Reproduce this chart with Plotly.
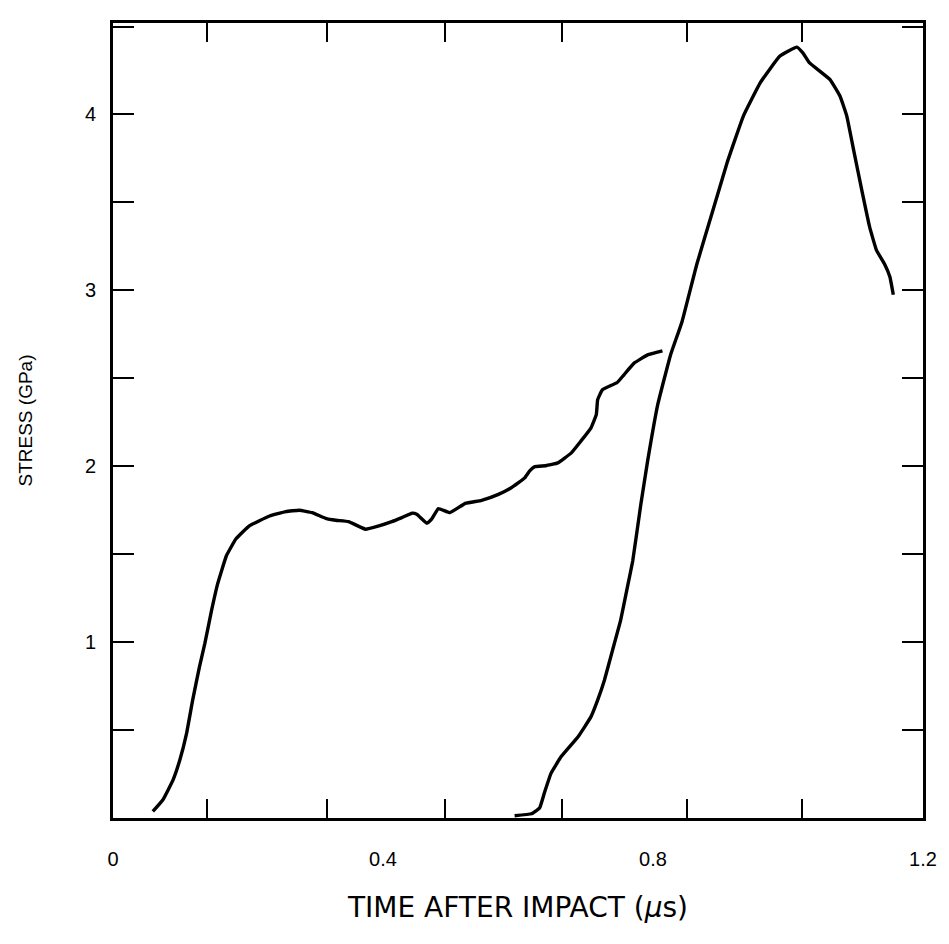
import plotly.graph_objects as go

# stress history (time in us, stress in GPa)
t_front = [0.059, 0.074, 0.089, 0.099, 0.109, 0.118, 0.128, 0.136, 0.146, 0.155,
           0.168, 0.182, 0.202, 0.232, 0.256, 0.276, 0.295, 0.315, 0.330, 0.349,
           0.374, 0.394, 0.413, 0.428, 0.443, 0.450, 0.465, 0.472, 0.482, 0.499,
           0.522, 0.546, 0.571, 0.590, 0.610, 0.617, 0.625, 0.641, 0.659, 0.679,
           0.693, 0.708, 0.716, 0.718, 0.725, 0.747, 0.757, 0.772, 0.792, 0.814]
s_front = [0.037, 0.104, 0.217, 0.330, 0.481, 0.670, 0.858, 0.991, 1.180, 1.331,
           1.491, 1.586, 1.661, 1.717, 1.742, 1.750, 1.736, 1.704, 1.693, 1.685,
           1.642, 1.661, 1.685, 1.708, 1.733, 1.727, 1.676, 1.699, 1.759, 1.736,
           1.789, 1.806, 1.840, 1.878, 1.934, 1.972, 1.998, 2.003, 2.019, 2.076,
           2.142, 2.217, 2.293, 2.378, 2.435, 2.476, 2.520, 2.586, 2.633, 2.656]

t_back = [0.595, 0.620, 0.632, 0.639, 0.649, 0.664, 0.689, 0.708, 0.718, 0.728,
          0.740, 0.752, 0.762, 0.770, 0.782, 0.792, 0.807, 0.826, 0.843, 0.865,
          0.888, 0.910, 0.934, 0.959, 0.988, 1.013, 1.022, 1.032, 1.062, 1.077,
          1.087, 1.098, 1.110, 1.121, 1.131, 1.143, 1.151, 1.156]
s_back = [0.013, 0.024, 0.057, 0.142, 0.255, 0.349, 0.462, 0.575, 0.670, 0.783,
          0.953, 1.123, 1.311, 1.463, 1.784, 2.029, 2.350, 2.633, 2.822, 3.150,
          3.445, 3.728, 3.992, 4.181, 4.332, 4.383, 4.350, 4.293, 4.199, 4.105,
          3.992, 3.783, 3.557, 3.359, 3.229, 3.150, 3.076, 2.975]

x_labels = [0, 0.4, 0.8, 1.2]
x_label_text = ["0", "0.4", "0.8", "1.2"]
x_tick_marks = [0.139, 0.317, 0.492, 0.665, 0.851, 1.020]
y_ticks = [0.5, 1, 1.5, 2, 2.5, 3, 3.5, 4, 4.5]
y_tick_text = ["", "1", "", "2", "", "3", "", "4", ""]

font = "Liberation Sans, Arial, sans-serif"
curve = dict(color="black", width=3.4, shape="spline", smoothing=0.3)

fig = go.Figure()
fig.add_trace(go.Scatter(x=t_front, y=s_front, mode="lines", line=curve, showlegend=False, hoverinfo="skip"))
# second curve sits on the label axis (same range) so that axis gets drawn
fig.add_trace(go.Scatter(x=t_back, y=s_back, mode="lines", line=curve, showlegend=False, hoverinfo="skip",
                         xaxis="x2"))

# page body has an 8px default margin, so the figure is sized/placed to account for it
fig.update_layout(
    width=941, height=936,
    margin=dict(l=105, r=22, t=12, b=126),
    paper_bgcolor="white", plot_bgcolor="white",
    font=dict(family=font, color="black"),
    xaxis=dict(range=[0, 1.2], showgrid=False, zeroline=False, showline=True, linewidth=3, linecolor="black",
               mirror="ticks", tickmode="array", tickvals=x_tick_marks, ticks="inside", ticklen=19, tickwidth=2,
               tickcolor="black", showticklabels=False),
    xaxis2=dict(range=[0, 1.2], overlaying="x", side="bottom", anchor="y", showgrid=False, zeroline=False,
                showline=False, tickmode="array", tickvals=x_labels, ticktext=x_label_text, ticks="",
                tickfont=dict(size=20), ticklabelstandoff=27,
                title=dict(text="TIME AFTER IMPACT (<i>μ</i>s)", font=dict(family="DejaVu Sans", size=28),
                           standoff=28)),
    yaxis=dict(range=[0, 4.52], showgrid=False, zeroline=False, showline=True, linewidth=3, linecolor="black",
               mirror="ticks", tickmode="array", tickvals=y_ticks, ticktext=y_tick_text, ticks="inside",
               ticklen=21, tickwidth=2, tickcolor="black", tickfont=dict(size=20), ticklabelstandoff=10,
               title=dict(text="STRESS (GPa)", font=dict(size=19), standoff=48)),
)

fig.write_html("out.html")
